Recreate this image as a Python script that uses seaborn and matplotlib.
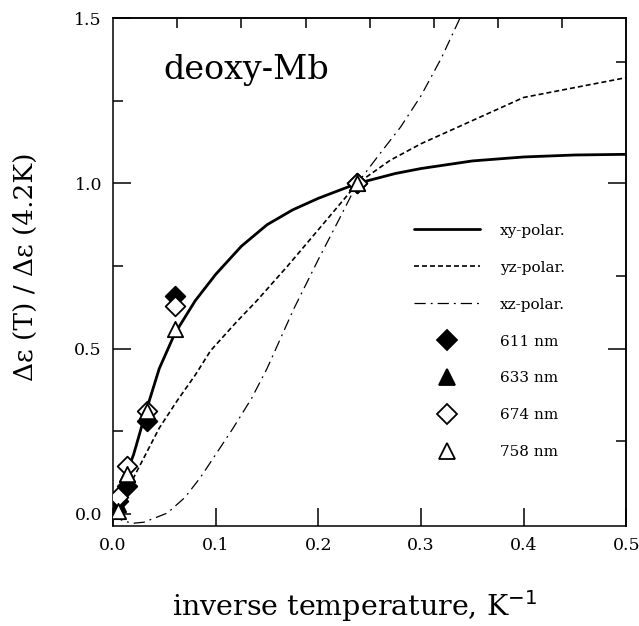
import numpy as np
import pandas as pd
import seaborn as sns
import matplotlib
matplotlib.use("Agg")
import matplotlib.pyplot as plt
from matplotlib.lines import Line2D

# ---- curves ----
xy_x = [0, 0.005, 0.014, 0.02, 0.033, 0.045, 0.06, 0.08, 0.1, 0.125, 0.15, 0.175,
        0.2, 0.238, 0.275, 0.3, 0.35, 0.4, 0.45, 0.5]
xy_y = [0.0, 0.04, 0.13, 0.18, 0.32, 0.44, 0.545, 0.645, 0.725, 0.81, 0.875, 0.92,
        0.955, 1.0, 1.03, 1.045, 1.068, 1.08, 1.086, 1.088]

yz_x = [0, 0.005, 0.0147, 0.03, 0.045, 0.0625, 0.08, 0.095, 0.12, 0.14, 0.17, 0.2,
        0.238, 0.27, 0.3, 0.35, 0.4, 0.45, 0.5]
yz_y = [0.0, 0.02, 0.078, 0.17, 0.26, 0.343, 0.42, 0.494, 0.58, 0.645, 0.75, 0.86,
        1.0, 1.07, 1.12, 1.19, 1.26, 1.29, 1.32]

xz_x = [0, 0.005, 0.01, 0.02, 0.03, 0.04, 0.053, 0.07, 0.085, 0.1, 0.117, 0.135,
        0.15, 0.176, 0.2, 0.22, 0.238, 0.26, 0.28, 0.3, 0.32, 0.338]
xz_y = [0.0, -0.012, -0.022, -0.028, -0.025, -0.013, 0.003, 0.05, 0.11, 0.18, 0.26,
        0.35, 0.44, 0.62, 0.77, 0.89, 1.0, 1.09, 1.17, 1.265, 1.38, 1.5]

# ---- measured points ----
inv_T = [0.005, 0.014, 0.033, 0.06, 0.238]
y_611 = [0.04, 0.085, 0.28, 0.66, 1.0]
y_633 = [0.03, 0.12, 0.30, 0.65, 1.0]
y_674 = [0.05, 0.145, 0.31, 0.63, 1.0]
y_758 = [0.01, 0.12, 0.31, 0.56, 1.0]

curve_labels = ["xy-polar.", "yz-polar.", "xz-polar."]
point_labels = ["611 nm", "633 nm", "674 nm", "758 nm"]

sns.set_style("ticks")
plt.rcParams["font.family"] = ["DejaVu Serif"]
plt.rcParams["text.color"] = "black"
plt.rcParams["axes.labelcolor"] = "black"
plt.rcParams["xtick.color"] = "black"
plt.rcParams["ytick.color"] = "black"
plt.rcParams["axes.edgecolor"] = "black"

fig = plt.figure(figsize=(6.39, 6.26), dpi=100)
ax = fig.add_axes([0.177, 0.160, 0.803, 0.811])

styles = [dict(lw=2.0, ls="-"),
          dict(lw=1.2, ls=(0, (3, 1.8))),
          dict(lw=0.9, ls=(0, (9, 4, 1.5, 4)))]
for (cx, cy), st in zip([(xy_x, xy_y), (yz_x, yz_y), (xz_x, xz_y)], styles):
    df = pd.DataFrame({"x": cx, "y": cy})
    sns.lineplot(data=df, x="x", y="y", ax=ax, color="black", sort=False,
                 linewidth=st["lw"], linestyle=st["ls"], legend=False)

marker_specs = [("D", "black", 10), ("^", "black", 11), ("D", "white", 10), ("^", "white", 11)]
for yv, (mk, fc, ms) in zip([y_611, y_633, y_674, y_758], marker_specs):
    df = pd.DataFrame({"x": inv_T, "y": yv})
    sns.scatterplot(data=df, x="x", y="y", ax=ax, marker=mk, s=ms**2, facecolor=fc,
                    edgecolor="black", linewidth=1.3, legend=False, zorder=5)

ax.set_xlim(0, 0.5)
ax.set_ylim(-0.036, 1.5)
ax.set_xticks([0.0, 0.1, 0.2, 0.3, 0.4, 0.5])
ax.set_xticklabels(["0.0", "0.1", "0.2", "0.3", "0.4", "0.5"])
ax.set_yticks([0.0, 0.5, 1.0, 1.5])
ax.set_yticklabels(["0.0", "0.5", "1.0", "1.5"])
ax.set_yticks([0.25, 0.75, 1.25], minor=True)
ax.tick_params(axis="both", which="major", direction="in", length=13, width=1.1,
               labelsize=12.5, pad=8, top=False, right=False)
ax.tick_params(axis="y", which="minor", direction="in", length=7, width=1.1, right=False)
for sp in ax.spines.values():
    sp.set_linewidth(1.1)

# top and right ticks
top = ax.secondary_xaxis("top")
top.set_xticks([0.0625 * i for i in range(1, 8)])
top.tick_params(direction="in", length=7, width=1.1, labeltop=False)
top.spines["top"].set_linewidth(1.1)
right = ax.secondary_yaxis("right")
right.set_yticks([0.5, 1.0])
right.set_yticks([0.22, 0.72, 1.367], minor=True)
right.tick_params(which="major", direction="in", length=13, width=1.1, labelright=False)
right.tick_params(which="minor", direction="in", length=7, width=1.1)
right.spines["right"].set_linewidth(1.1)

ax.set_xlabel("inverse temperature, K$^{-1}$", fontsize=20.5)
ax.xaxis.set_label_coords(0.47, -0.122)
ax.set_ylabel("Δε (T) / Δε (4.2K)", fontsize=19)
ax.yaxis.set_label_coords(-0.147, 0.51)

ax.text(0.098, 0.898, "deoxy-Mb", transform=ax.transAxes, fontsize=24,
        ha="left", va="center")

handles = [Line2D([], [], color="black", lw=styles[i]["lw"], ls=styles[i]["ls"]) for i in range(3)]
for mk, fc, ms in marker_specs:
    handles.append(Line2D([], [], ls="none", marker=mk, markersize=ms, markerfacecolor=fc,
                          markeredgecolor="black", markeredgewidth=1.3))
leg = ax.legend(handles, curve_labels + point_labels, loc="upper left",
                bbox_to_anchor=(0.56, 0.622), frameon=False, fontsize=11,
                handlelength=4.3, handletextpad=1.3, labelspacing=1.5)

fig.savefig("out.png", dpi=100)
